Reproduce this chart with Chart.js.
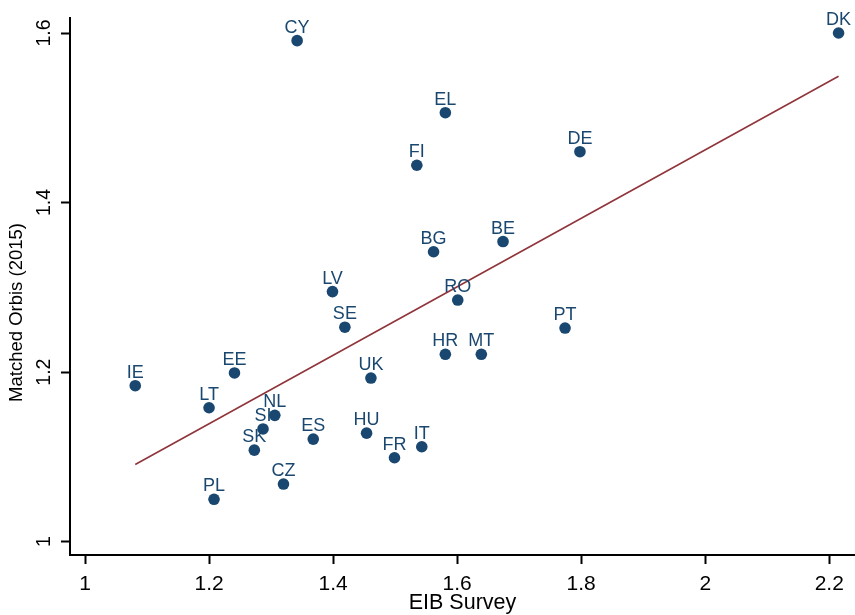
<!DOCTYPE html>
<html>
<head>
<meta charset="utf-8">
<script src="https://cdn.jsdelivr.net/npm/chart.js@4/dist/chart.umd.min.js"></script>
<style>
html,body{margin:0;padding:0;background:#fff;overflow:hidden;width:855px;height:615px;}
#wrap{width:855px;height:615px;position:absolute;left:0;top:0;overflow:hidden;}
canvas{display:block;}
</style>
</head>
<body>
<div id="wrap"><canvas id="c"></canvas></div>
<script>
// ---- data ----
const countries = ["CY","EL","FI","DE","DK","BG","BE","LV","RO","SE","PT","HR","MT","EE","UK","IE","LT","NL","SI","SK","ES","HU","IT","FR","CZ","PL"];
const eibSurvey = [1.342,1.581,1.535,1.798,2.215,1.562,1.674,1.399,1.601,1.419,1.774,1.581,1.639,1.241,1.461,1.081,1.200,1.306,1.287,1.273,1.368,1.454,1.543,1.499,1.320,1.208];
const matchedOrbis = [1.591,1.506,1.444,1.460,1.600,1.342,1.354,1.295,1.285,1.253,1.252,1.221,1.221,1.199,1.193,1.184,1.158,1.149,1.133,1.108,1.121,1.128,1.112,1.099,1.068,1.050];
const fitX = [1.081, 2.215];
const fitY = [1.091, 1.549];
const xTicks = [1, 1.2, 1.4, 1.6, 1.8, 2, 2.2];
const yTicks = [1, 1.2, 1.4, 1.6];
const xTitle = 'EIB Survey';
const yTitle = 'Matched Orbis (2015)';

const NAVY = '#1a476f';
const MAROON = '#90353b';
const FONT = '"Liberation Sans", Arial, sans-serif';

const points = countries.map((c, i) => ({x: eibSurvey[i], y: matchedOrbis[i]}));
const fitLine = fitX.map((x, i) => ({x: x, y: fitY[i]}));

const labelPlugin = {
  id: 'countryLabels',
  afterDatasetsDraw(chart) {
    const meta = chart.getDatasetMeta(0);
    const ctx = chart.ctx;
    ctx.save();
    ctx.font = '18px ' + FONT;
    ctx.fillStyle = NAVY;
    ctx.textAlign = 'center';
    ctx.textBaseline = 'alphabetic';
    meta.data.forEach((el, i) => {
      ctx.fillText(countries[i], el.x, el.y - 8);
    });
    ctx.restore();
  }
};

// y-axis title, placed a little below the plot centre as in the original
const yTitlePlugin = {
  id: 'yTitle',
  afterDraw(chart) {
    const ctx = chart.ctx;
    const ys = chart.scales.y;
    ctx.save();
    ctx.font = '18.5px ' + FONT;
    ctx.fillStyle = '#000';
    ctx.textAlign = 'center';
    ctx.textBaseline = 'middle';
    ctx.translate(ys.left + 17, (ys.top + ys.bottom) / 2 + 26);
    ctx.rotate(-Math.PI / 2);
    ctx.fillText(yTitle, 0, 0);
    ctx.restore();
  }
};

const fmt = v => String(Math.round(v * 10) / 10);

new Chart(document.getElementById('c'), {
  type: 'scatter',
  data: {
    datasets: [
      {
        label: 'Countries',
        data: points,
        pointRadius: 5.8,
        pointHoverRadius: 5.8,
        pointBackgroundColor: NAVY,
        pointBorderWidth: 0,
        showLine: false
      },
      {
        label: 'Fit',
        type: 'line',
        data: fitLine,
        borderColor: MAROON,
        borderWidth: 1.6,
        pointRadius: 0,
        fill: false,
        tension: 0
      }
    ]
  },
  options: {
    responsive: true,
    maintainAspectRatio: false,
    animation: false,
    layout: {autoPadding: false, padding: {top: 18, right: 0, bottom: 0, left: 0}},
    plugins: {legend: {display: false}, tooltip: {enabled: false}},
    scales: {
      x: {
        type: 'linear',
        min: 0.9758,
        max: 2.2415,
        afterBuildTicks: s => { s.ticks = xTicks.map(v => ({value: v})); },
        afterFit: s => { s.height = 60; s.paddingLeft = 0; s.paddingRight = 0; },
        border: {display: true, color: '#000', width: 2},
        grid: {drawOnChartArea: false, drawTicks: true, tickLength: 9, tickWidth: 2, tickColor: '#000'},
        ticks: {color: '#000', font: {size: 21, family: FONT}, padding: 8, maxRotation: 0, minRotation: 0, callback: v => fmt(v)},
        title: {display: true, text: xTitle, color: '#000', font: {size: 21.5, family: FONT}, padding: {top: 0, bottom: -1}}
      },
      y: {
        type: 'linear',
        min: 0.9843,
        max: 1.6177,
        afterBuildTicks: s => { s.ticks = yTicks.map(v => ({value: v})); },
        afterFit: s => { s.width = 70; s.paddingTop = 0; s.paddingBottom = 0; },
        border: {display: true, color: '#000', width: 2},
        grid: {drawOnChartArea: false, drawTicks: true, tickLength: 9, tickWidth: 2, tickColor: '#000'},
        ticks: {color: '#000', font: {size: 19.5, family: FONT}, padding: 3, minRotation: 90, maxRotation: 90, crossAlign: 'center', callback: v => fmt(v)},
        title: {display: false, text: yTitle}
      }
    }
  },
  plugins: [labelPlugin, yTitlePlugin]
});
</script>
</body>
</html>
